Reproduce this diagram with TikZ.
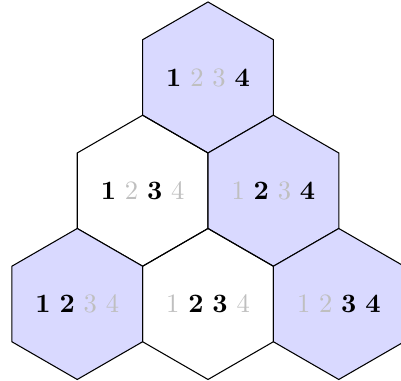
\documentclass[tikz,border=0pt]{standalone}
\usepackage{xcolor}
\usepackage{tikz}
\usetikzlibrary{shapes.geometric}

\newcommand{\on}[1]{\textbf{#1}}
\newcommand{\off}[1]{\textcolor{gray!50}{#1}}

\begin{document}
\begin{tikzpicture}[
    hexcell/.style={regular polygon, regular polygon sides=6, shape border rotate=30, draw, minimum size=2cm, inner sep=0pt, outer sep=0pt},
    chosen/.style={hexcell, fill=blue!15}
]
\useasboundingbox (-2.755,1.026) rectangle (2.556,-4.020);

% Top
\node[chosen] (top) at (0,0) {\on{1} \off{2} \off{3} \on{4}};

% Middle row
\node[hexcell] (midleft) at (-0.866,-1.5) {\on{1} \off{2} \on{3} \off{4}};
\node[chosen] (midright) at (0.866,-1.5) {\off{1} \on{2} \off{3} \on{4}};

% Bottom row
\node[chosen] (botleft) at (-1.732,-3) {\on{1} \on{2} \off{3} \off{4}};
\node[hexcell] (botmid) at (0,-3) {\off{1} \on{2} \on{3} \off{4}};
\node[chosen] (botright) at (1.732,-3) {\off{1} \off{2} \on{3} \on{4}};

\end{tikzpicture}
\end{document}
